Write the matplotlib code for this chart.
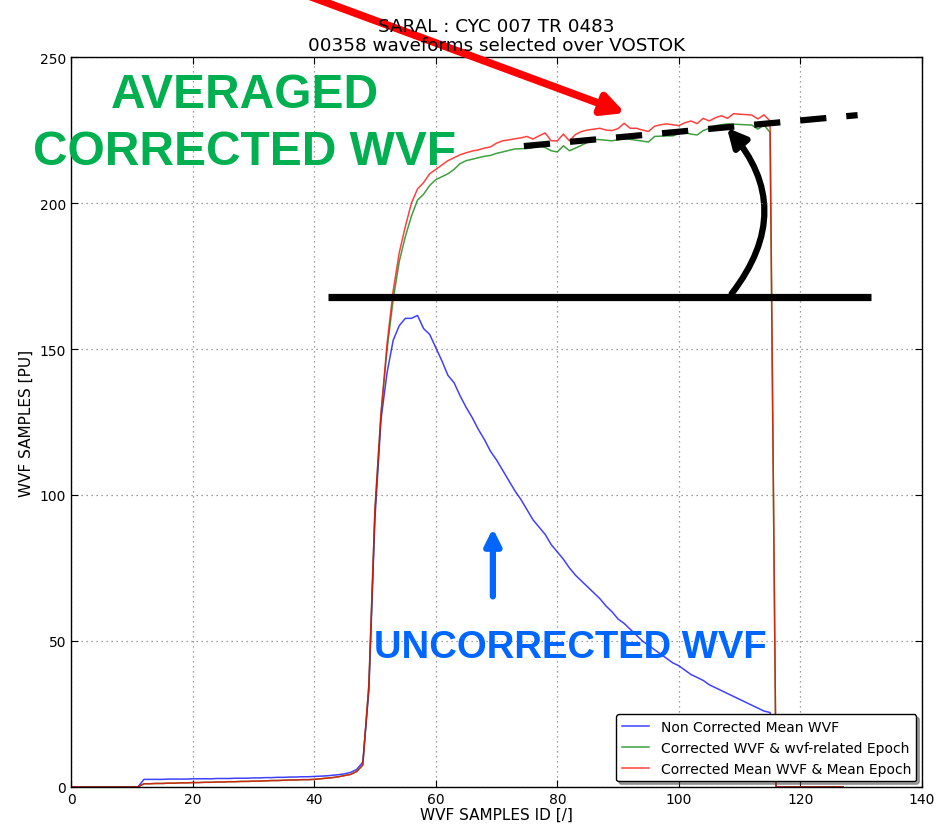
import numpy as np
import matplotlib
matplotlib.use("Agg")
import matplotlib.pyplot as plt
from matplotlib.patches import FancyArrowPatch

# sample index 0..127
samples = np.arange(128)

# --- waveform values ---
# leading edge part (samples 0..60), common shape
blue_head = [0] * 12 + [2.6, 2.6, 2.6, 2.6, 2.7, 2.7, 2.7, 2.7, 2.8, 2.8,
                        2.8, 2.8, 2.9, 2.9, 2.9, 3.0, 3.0, 3.0, 3.1, 3.1,
                        3.2, 3.2, 3.3, 3.3, 3.4, 3.4, 3.5, 3.5, 3.6,
                        3.7, 3.8, 4.0, 4.2, 4.5, 5.0, 6.0, 8.5, 33, 92,
                        126, 142, 153, 158, 160.5, 160.5, 161.5, 157, 155, 150.5]
blue_tail = [146, 141, 138.5, 134, 130, 126.5, 122.5, 119, 115, 112,
             108.5, 105, 101.5, 98.5, 95, 91.5, 89, 86.5, 83, 80.5,
             78, 75, 72.5, 70.5, 68.5, 66.5, 64.5, 62, 60, 57.5,
             56, 54, 52, 50, 48.5, 47, 45.5, 44, 42.5, 41.5,
             40, 38.5, 37.5, 36.5, 35, 34, 33, 32, 31, 30,
             29, 28, 27, 26, 25.5] + [0] * 12
non_corrected = blue_head + blue_tail

red_head = [0] * 12 + [1.1, 1.1, 1.2, 1.2, 1.3, 1.3, 1.4, 1.4, 1.5, 1.5,
                       1.6, 1.6, 1.7, 1.7, 1.8, 1.8, 1.9, 1.9, 2.0, 2.0,
                       2.1, 2.2, 2.2, 2.3, 2.4, 2.4, 2.5, 2.5, 2.6,
                       2.8, 3.0, 3.2, 3.5, 3.9, 4.3, 5.3, 7.5, 35, 95,
                       128]
mean_epoch = red_head + [152, 170, 183, 192, 200, 204.8, 207, 210, 211.5,
                         213, 214.5, 215.5, 216.5, 217.2, 217.8, 218.2, 218.8, 219.2, 220.5,
                         221.3, 221.6, 222, 222.3, 222.8, 221.9, 223, 224, 221.3, 221.3,
                         223.6, 221.3, 223.5, 224.5, 225, 225.3, 225.6, 225, 224.8, 225.5,
                         227.3, 225.6, 225.6, 225, 224.5, 226.3, 226.8, 227.1, 226.8, 226.5,
                         227.5, 228.1, 227.2, 229, 228.1, 229.2, 229.9, 229, 230.6, 230.4,
                         230.3, 230.1, 228.8, 230.2, 228.1] + [0] * 12
wvf_epoch = red_head + [150, 167, 180, 188.5, 195.5, 201, 203, 206, 208,
                        209, 210, 211.5, 213.5, 214.5, 215, 215.5, 216, 216.3, 217,
                        217.5, 218, 218.5, 218.6, 218.7, 219, 219.6, 219, 217.9, 217.5,
                        219.6, 217.9, 218.8, 219.8, 220.8, 221.8, 221.7, 221.5, 221.3, 221.7,
                        222.1, 221.8, 221.5, 221.2, 220.9, 222.8, 222.9, 223, 223, 223.8,
                        224.1, 223.6, 223.3, 224.8, 225.6, 226.5, 226.8, 227.1, 227, 226.9,
                        226.8, 226.7, 225.3, 226.7, 224.2] + [0] * 12

labels = ["Non Corrected Mean WVF",
          "Corrected WVF & wvf-related Epoch",
          "Corrected Mean WVF & Mean Epoch"]

fig = plt.figure(figsize=(9.42, 8.29), dpi=100)
ax = fig.add_axes([0.0754, 0.0495, 0.9034, 0.8805])

ax.plot(samples, non_corrected, color="b", lw=1.1, alpha=0.75, label=labels[0])
ax.plot(samples, wvf_epoch, color="g", lw=1.1, alpha=0.75, label=labels[1])
ax.plot(samples, mean_epoch, color="r", lw=1.1, alpha=0.75, label=labels[2])

ax.set_xlim(0, 140)
ax.set_ylim(0, 250)
ax.set_xticks(range(0, 141, 20))
ax.set_yticks(range(0, 251, 50))
ax.grid(True, linestyle=(0, (1, 3)), color="0.5", lw=0.9)
ax.tick_params(direction="in", top=True, right=True, labelsize=10, length=5)
ax.set_xlabel("WVF SAMPLES ID [/]", fontsize=11, labelpad=1)
ax.set_ylabel("WVF SAMPLES [PU]", fontsize=11)
ax.set_title("SARAL : CYC 007 TR 0483\n00358 waveforms selected over VOSTOK",
             fontsize=13.2, pad=5, linespacing=1.1)
for s in ax.spines.values():
    s.set_linewidth(1.0)

leg = ax.legend(loc="lower right", fontsize=10, shadow=True, fancybox=True,
                borderaxespad=0.4, handlelength=2.0, framealpha=1)
leg.get_frame().set_edgecolor("black")

# --- annotations drawn over the chart ---
ax.text(28.6, 237, "AVERAGED", color="#00B050", fontsize=34.5, fontweight="bold",
        family="Liberation Sans", ha="center", va="center")
ax.text(28.6, 217.5, "CORRECTED WVF", color="#00B050", fontsize=34.5, fontweight="bold",
        family="Liberation Sans", ha="center", va="center")
ax.text(82.1, 47.9, "UNCORRECTED WVF", color="#0066FF", fontsize=27.5, fontweight="bold",
        family="Liberation Sans", ha="center", va="center")

# level of the uncorrected peak and fitted trend of the corrected plateau
ax.plot([42.3, 131.6], [167.8, 167.8], color="black", lw=5.2, solid_capstyle="butt", clip_on=False)
ax.plot([74.5, 129.4], [219.5, 230.1], color="black", lw=4.5,
        linestyle=(0, (4.2, 3.2)), clip_on=False)

curved = FancyArrowPatch((108.4, 168.2), (107.6, 226.5),
                         connectionstyle="arc3,rad=0.42", arrowstyle="-|>",
                         mutation_scale=28, lw=4.5, color="black")
ax.add_patch(curved)

ax.annotate("", xy=(91.6, 230.5), xytext=(37.7, 272),
            arrowprops=dict(arrowstyle="-|>", color="red", lw=5.5, mutation_scale=32),
            annotation_clip=False)
ax.annotate("", xy=(69.4, 89.5), xytext=(69.4, 64.3),
            arrowprops=dict(arrowstyle="-|>", color="#0066FF", lw=4.5, mutation_scale=24))

plt.savefig("out.png", dpi=100)
